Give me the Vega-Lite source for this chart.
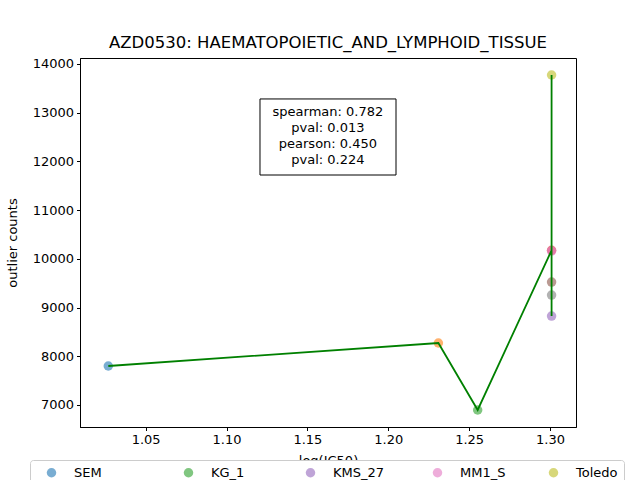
{
  "$schema": "https://vega.github.io/schema/vega-lite/v6.json",
  "width": 496,
  "height": 369,
  "autosize": "none",
  "padding": {"left": 80, "top": 58, "right": 64, "bottom": 53},
  "background": "white",
  "title": {"text": "AZD0530: HAEMATOPOIETIC_AND_LYMPHOID_TISSUE", "fontSize": 16.5, "font": "DejaVu Sans", "fontWeight": "normal", "offset": 6, "color": "black"},
  "config": {
    "font": "DejaVu Sans",
    "view": {"stroke": "black", "strokeWidth": 1},
    "axis": {"grid": false, "domainColor": "black", "tickColor": "black", "labelColor": "black", "titleColor": "black", "labelFontSize": 13, "titleFontSize": 13, "titleFontWeight": "normal", "tickSize": 3.5, "labelPadding": 3, "labelFont": "DejaVu Sans", "titleFont": "DejaVu Sans"}
  },
  "layer": [
    {
      "data": {"values": [
        {"cell": "SEM", "logIC50": 1.0269, "outliers": 7800},
        {"cell": "OCI_LY_19", "logIC50": 1.2310, "outliers": 8272},
        {"cell": "KG_1", "logIC50": 1.2553, "outliers": 6897},
        {"cell": "MV4_11", "logIC50": 1.3010, "outliers": 10175},
        {"cell": "KMS_27", "logIC50": 1.3010, "outliers": 8826},
        {"cell": "NOMO_1", "logIC50": 1.3010, "outliers": 9524},
        {"cell": "MM1_S", "logIC50": 1.3010, "outliers": 10160},
        {"cell": "HL_60", "logIC50": 1.3010, "outliers": 9257},
        {"cell": "Toledo", "logIC50": 1.3010, "outliers": 13774}
      ]},
      "layer": [
        {
          "mark": {"type": "circle", "size": 90, "opacity": 0.6},
          "encoding": {
            "x": {"field": "logIC50", "type": "quantitative", "title": "log(IC50)", "scale": {"domain": [1.0094, 1.3161], "nice": false, "zero": false}, "axis": {"values": [1.05, 1.1, 1.15, 1.2, 1.25, 1.3], "format": ".2f", "titlePadding": 8}},
            "y": {"field": "outliers", "type": "quantitative", "title": "outlier counts", "scale": {"domain": [6548, 14123], "nice": false, "zero": false}, "axis": {"values": [7000, 8000, 9000, 10000, 11000, 12000, 13000, 14000], "format": "d", "titlePadding": 13}},
            "color": {"field": "cell", "type": "nominal", "title": null,
              "scale": {"domain": ["SEM", "KG_1", "KMS_27", "MM1_S", "Toledo", "OCI_LY_19", "MV4_11", "NOMO_1", "HL_60"],
                        "range": ["#1f77b4", "#2ca02c", "#9467bd", "#e377c2", "#bcbd22", "#ff7f0e", "#d62728", "#8c564b", "#7f7f7f"]},
              "legend": {"orient": "none", "legendX": -50, "legendY": 402, "columns": 5, "direction": "horizontal", "columnPadding": 32, "rowPadding": 8, "padding": 6, "symbolOffset": 9, "symbolSize": 90, "symbolOpacity": 0.6, "symbolType": "circle", "symbolStrokeWidth": 0, "labelOffset": 16, "labelFontSize": 13, "labelColor": "black", "labelFont": "DejaVu Sans", "fillColor": "white", "strokeColor": "#cccccc", "cornerRadius": 3}
            }
          }
        },
        {
          "mark": {"type": "line", "color": "#008000", "strokeWidth": 1.8},
          "encoding": {
            "x": {"field": "logIC50", "type": "quantitative"},
            "y": {"field": "outliers", "type": "quantitative"},
            "order": {"value": null}
          }
        }
      ]
    },
    {
      "data": {"values": [{"label": "spearman: 0.782\npval: 0.013\npearson: 0.450\npval: 0.224"}]},
      "layer": [
        {
          "mark": {"type": "rect", "fill": "white", "stroke": "black", "strokeWidth": 1},
          "encoding": {
            "x": {"datum": 1.1207, "type": "quantitative"},
            "x2": {"datum": 1.2048},
            "y": {"datum": 13282, "type": "quantitative"},
            "y2": {"datum": 11721}
          }
        },
        {
          "mark": {"type": "text", "fontSize": 13, "font": "DejaVu Sans", "align": "center", "baseline": "middle", "lineHeight": 16, "lineBreak": "\n", "color": "black"},
          "encoding": {
            "x": {"datum": 1.1627, "type": "quantitative"},
            "y": {"datum": 13015, "type": "quantitative"},
            "text": {"field": "label", "type": "nominal"}
          }
        }
      ]
    }
  ]
}
